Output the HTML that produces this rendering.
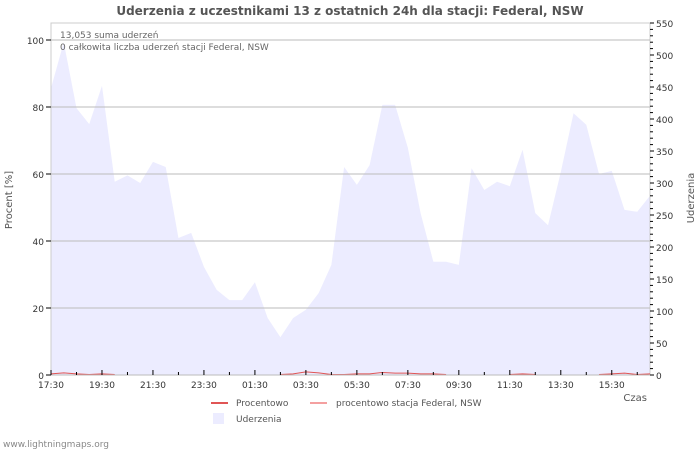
<!DOCTYPE html>
<html><head><meta charset="utf-8"><style>
body{margin:0;background:#fff;}
svg text{font-family:"DejaVu Sans","Liberation Sans",sans-serif;}
</style></head><body>
<svg id="chart" width="700" height="450" xmlns="http://www.w3.org/2000/svg">
<text x="350" y="15" text-anchor="middle" font-size="12" font-weight="bold" fill="#555">Uderzenia z uczestnikami 13 z ostatnich 24h dla stacji: Federal, NSW</text>
<g id="area"></g>
<g id="grid"></g>
<g id="marks"></g>
<g id="axes"></g>
<text x="60" y="38" font-size="9" fill="#666">13,053 suma uderzeń</text>
<text x="60" y="50" font-size="9" fill="#666">0 całkowita liczba uderzeń stacji Federal, NSW</text>
<text transform="translate(12,200) rotate(-90)" text-anchor="middle" font-size="10" fill="#555">Procent   [%]</text>
<text transform="translate(694,198) rotate(-90)" text-anchor="middle" font-size="10" fill="#555">Uderzenia</text>
<text x="647" y="401" text-anchor="end" font-size="10" fill="#555">Czas</text>
<line x1="211" y1="403" x2="228" y2="403" stroke="#e05555" stroke-width="2"/>
<text x="236" y="406" font-size="9" fill="#555">Procentowo</text>
<line x1="310" y1="403" x2="327" y2="403" stroke="#f4a0a0" stroke-width="2"/>
<text x="336" y="406" font-size="9" fill="#555">procentowo stacja Federal, NSW</text>
<rect x="213" y="413" width="11" height="11" fill="#ececff"/>
<text x="236" y="422" font-size="9" fill="#555">Uderzenia</text>
<text x="3" y="447" font-size="9" fill="#888">www.lightningmaps.org</text>
</svg>
<script>
const counts=[448,520,417,392,452,302,312,300,333,325,214,222,169,133,117,117,145,89,59,89,102,128,172,325,297,328,422,422,355,253,177,177,172,323,289,302,295,352,253,234,317,409,391,314,319,258,255,280];
const percent=[0.2,0.5,0.2,0,0.2,0,0,0,0,0,0,0,0,0,0,0,0,0,0,0.2,0.8,0.5,0,0,0.2,0.2,0.6,0.4,0.4,0.2,0.2,0,0,0,0,0,0,0.2,0,0,0,0,0,0,0.2,0.4,0,0.2];
const xTickLabels=["17:30","19:30","21:30","23:30","01:30","03:30","05:30","07:30","09:30","11:30","13:30","15:30"];
const leftTicks=[0,20,40,60,80,100];
const rightTicks=[0,50,100,150,200,250,300,350,400,450,500,550];
const X0=51,X1=650,Y0=375,YT=23;
const NS="http://www.w3.org/2000/svg";
const xs=i=>X0+i*(X1-X0)/(counts.length-1);
const yL=v=>Y0-v*(Y0-40)/100;
const yR=v=>Y0-v*(Y0-YT)/550;
function mk(tag,attrs,parent){const e=document.createElementNS(NS,tag);for(const k in attrs)e.setAttribute(k,attrs[k]);document.getElementById(parent).appendChild(e);return e;}
const fr=mk('rect',{x:X0,y:YT,width:X1-X0,height:Y0-YT,fill:'none',stroke:'#ccc'},'grid');


let d='M'+X0+','+Y0;counts.forEach((c,i)=>d+=' L'+xs(i)+','+yR(c));d+=' L'+X1+','+Y0+' Z';
const ar=mk('path',{d:d,fill:'#ececff'},'area');


leftTicks.forEach(v=>{const y=yL(v);
 if(v>0){const g=mk('line',{x1:X0,y1:y,x2:X1,y2:y,stroke:'#bbb'},'grid');}
 mk('line',{x1:X0-5,y1:y,x2:X0,y2:y,stroke:'#000'},'axes');
 const t=mk('text',{x:X0-7,y:y+4,'text-anchor':'end','font-size':9,fill:'#333'},'axes');t.textContent=v;
 });
rightTicks.forEach(v=>{const y=yR(v);
 mk('line',{x1:X1,y1:y,x2:X1+4,y2:y,stroke:'#000'},'axes');
 const t=mk('text',{x:X1+6,y:y+4,'font-size':9,fill:'#333'},'axes');t.textContent=v;
 });
for(let v=10;v<550;v+=10){if(v%50)mk('line',{x1:X1,y1:yR(v),x2:X1+3,y2:yR(v),stroke:'#000'},'axes');}
mk('line',{x1:X0,y1:Y0,x2:X1,y2:Y0,stroke:'#bbb'},'axes');
const hpx=(X1-X0)/23.5;
for(let h=0;h<=23;h++){const x=X0+h*hpx;mk('line',{x1:x,y1:Y0,x2:x,y2:Y0-(h%2?3:5),stroke:'#000'},'axes');
 if(h%2===0){const t=mk('text',{x:x,y:Y0+13,'text-anchor':'middle','font-size':9,fill:'#333'},'axes');t.textContent=xTickLabels[h/2];
 }}
let pd='';let pen=false;
percent.forEach((p,i)=>{const nz=p>0||(percent[i-1]>0)||(percent[i+1]>0);
 if(nz){pd+=(pen?' L':' M')+xs(i)+','+(yL(p)-0.5);pen=true;}else pen=false;});
const pl=mk('path',{d:pd,fill:'none',stroke:'#e05555','stroke-width':1},'marks');


</script>
</body></html>
